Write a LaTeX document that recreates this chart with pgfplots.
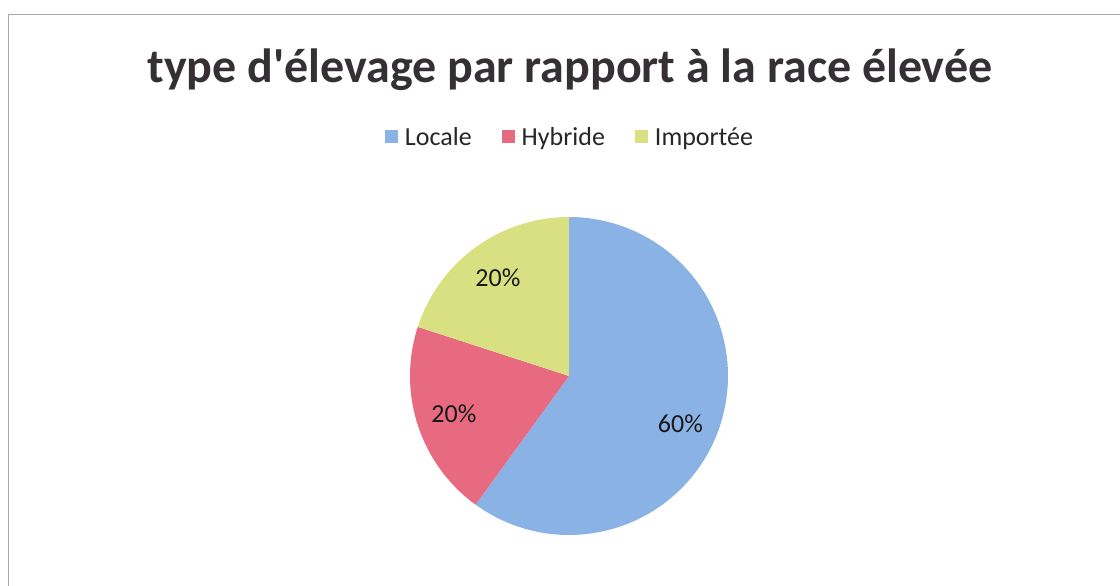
\documentclass[border=0pt]{standalone}
\usepackage{pgfplots}
\pgfplotsset{compat=1.18}
\usepackage{pgfplotstable}
\usepackage{fontspec}
\setmainfont{Carlito}
\definecolor{cLoc}{RGB}{138,178,228}
\definecolor{cHyb}{RGB}{232,106,128}
\definecolor{cImp}{RGB}{216,224,130}
\definecolor{cTitle}{RGB}{52,48,52}
\pgfplotstableread[col sep=comma]{
label,value
Locale,60
Hybride,20
Importée,20
}\piedata
\pgfplotstablegetelem{0}{value}\of\piedata \let\vA\pgfplotsretval
\pgfplotstablegetelem{1}{value}\of\piedata \let\vB\pgfplotsretval
\pgfplotstablegetelem{2}{value}\of\piedata \let\vC\pgfplotsretval
\pgfmathsetmacro\tot{\vA+\vB+\vC}
\pgfmathsetmacro\fA{\vA/\tot}
\pgfmathsetmacro\fB{\vB/\tot}
\pgfmathsetmacro\fC{\vC/\tot}
\pgfmathsetmacro\aO{90}
\pgfmathsetmacro\aA{\aO-360*\fA}
\pgfmathsetmacro\aB{\aA-360*\fB}
\pgfmathsetmacro\aC{\aB-360*\fC}
\pgfmathsetmacro\mA{(\aO+\aA)/2-5}
\pgfmathsetmacro\mB{(\aA+\aB)/2}
\pgfmathsetmacro\mC{(\aB+\aC)/2}
\pgfmathtruncatemacro\pA{round(100*\fA)}
\pgfmathtruncatemacro\pB{round(100*\fB)}
\pgfmathtruncatemacro\pC{round(100*\fC)}
\def\cx{569}\def\cy{210}\def\rr{159}
\begin{document}
\begin{tikzpicture}
\begin{axis}[
  hide axis, scale only axis,
  width=1120pt, height=586pt,
  xmin=0, xmax=1120, ymin=0, ymax=586,
  clip=false,
  legend columns=3,
  legend style={at={(axis cs:570,449)}, anchor=center, draw=none, fill=none,
    font=\fontsize{26}{28}\selectfont, text=black!85,
    /tikz/every even column/.append style={column sep=28pt}},
  legend image code/.code={\fill[#1] (0pt,-6.5pt) rectangle (13pt,6.5pt); \path (0pt,0pt) -- (18pt,0pt);},
]
\path (axis cs:0,0) rectangle (axis cs:1120,586);
\draw[black!35, line width=0.8pt] (axis cs:8,0) -- (axis cs:8,572) -- (axis cs:1120,572);
\addplot[fill=cLoc, draw=none, domain=\aA:\aO, samples=120, variable=\t]
  ({\cx+\rr*cos(\t)},{\cy+\rr*sin(\t)}) -- (axis cs:\cx,\cy) -- cycle;
\addplot[fill=cHyb, draw=none, domain=\aB:\aA, samples=60, variable=\t]
  ({\cx+\rr*cos(\t)},{\cy+\rr*sin(\t)}) -- (axis cs:\cx,\cy) -- cycle;
\addplot[fill=cImp, draw=none, domain=\aC:\aB, samples=60, variable=\t]
  ({\cx+\rr*cos(\t)},{\cy+\rr*sin(\t)}) -- (axis cs:\cx,\cy) -- cycle;
\legend{Locale,Hybride,Importée}
\node[font=\fontsize{26}{28}\selectfont, text=black!90] at (axis cs:{\cx+121*cos(\mA)},{\cy+121*sin(\mA)}) {\pA\%};
\node[font=\fontsize{26}{28}\selectfont, text=black!90] at (axis cs:{\cx+121*cos(\mB)},{\cy+121*sin(\mB)}) {\pB\%};
\node[font=\fontsize{26}{28}\selectfont, text=black!90] at (axis cs:{\cx+121*cos(\mC)},{\cy+121*sin(\mC)}) {\pC\%};
\node[font=\bfseries\fontsize{48}{52}\selectfont, text=cTitle] at (axis cs:570,516) {type d\textquotesingle élevage par rapport à la race élevée};
\end{axis}
\pgfresetboundingbox
\path (current axis.south west) rectangle (current axis.north east);
\end{tikzpicture}
\end{document}
